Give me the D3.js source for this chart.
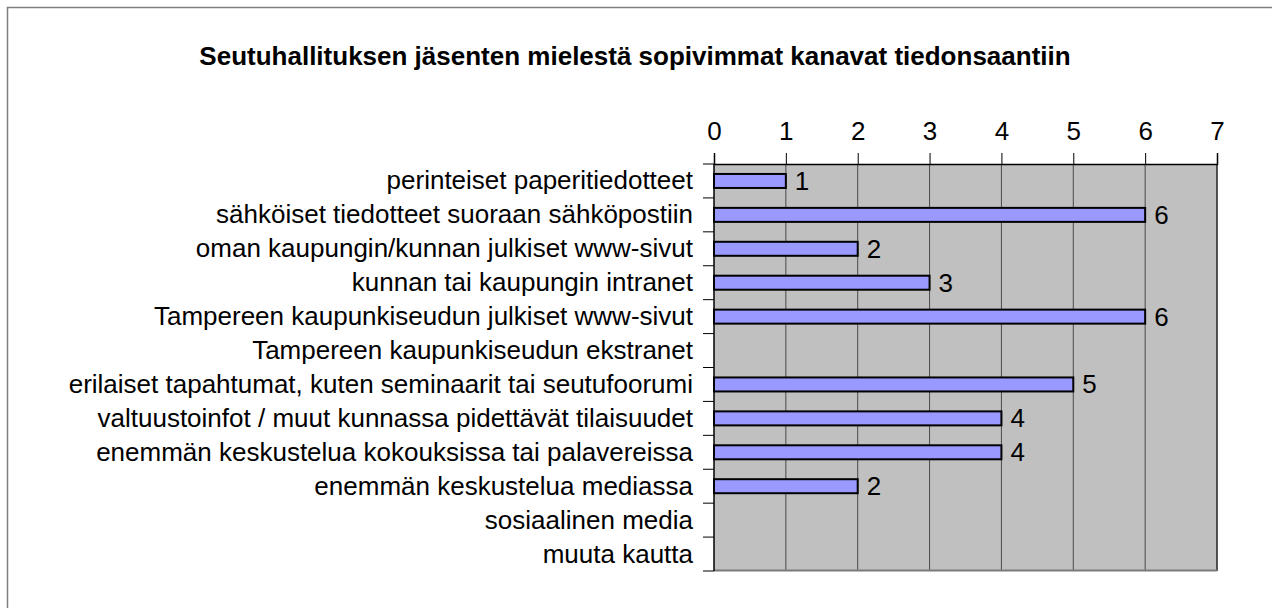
<!DOCTYPE html>
<html><head><meta charset="utf-8">
<script src="https://cdn.jsdelivr.net/npm/d3@7"></script>
<style>body{margin:0;background:#fff} svg{display:block}</style>
</head><body>
<svg id="c" width="1272" height="608"></svg>
<script>
const title = "Seutuhallituksen jäsenten mielestä sopivimmat kanavat tiedonsaantiin";
const categories = [
  "perinteiset paperitiedotteet",
  "sähköiset tiedotteet suoraan sähköpostiin",
  "oman kaupungin/kunnan julkiset www-sivut",
  "kunnan tai kaupungin intranet",
  "Tampereen kaupunkiseudun julkiset www-sivut",
  "Tampereen kaupunkiseudun ekstranet",
  "erilaiset tapahtumat, kuten seminaarit tai seutufoorumi",
  "valtuustoinfot / muut kunnassa pidettävät tilaisuudet",
  "enemmän keskustelua kokouksissa tai palavereissa",
  "enemmän keskustelua mediassa",
  "sosiaalinen media",
  "muuta kautta"
];
const values = [1, 6, 2, 3, 6, null, 5, 4, 4, 2, null, null];
const tickValues = [0, 1, 2, 3, 4, 5, 6, 7];

const svg = d3.select("#c");
const font = "'Liberation Sans', Arial, sans-serif";
const L = 714, R = 1217, T = 164, B = 571;

// outer border
svg.append("rect").attr("x", 7.5).attr("y", 7.5).attr("width", 1300).attr("height", 700)
  .attr("fill", "none").attr("stroke", "#7f7f7f").attr("stroke-width", 1.5);

svg.append("text").attr("x", 635).attr("y", 65).attr("text-anchor", "middle")
  .attr("font-family", font).attr("font-weight", "bold").attr("font-size", 26)
  .attr("fill", "#000").text(title);

const x = d3.scaleLinear().domain([0, 7]).range([L, R]);
const y = d3.scaleBand().domain(categories).range([T, B]).padding(0);

// plot area
svg.append("rect").attr("x", L).attr("y", T).attr("width", R - L).attr("height", B - T)
  .attr("fill", "#c0c0c0");

// grid lines
svg.append("g").selectAll("line").data(tickValues.slice(1)).join("line")
  .attr("x1", d => x(d)).attr("x2", d => x(d)).attr("y1", T).attr("y2", B)
  .attr("stroke", d => d === 7 ? "#222" : "#4a4a4a").attr("stroke-width", d => d === 7 ? 1.5 : 1);

// bottom edge
svg.append("line").attr("x1", L).attr("x2", R).attr("y1", B - 0.5).attr("y2", B - 0.5)
  .attr("stroke", "#7a7a7a").attr("stroke-width", 2);

// top axis
const xAxis = d3.axisTop(x).tickValues(tickValues).tickSize(11).tickPadding(13).tickFormat(d3.format("d"));
const gx = svg.append("g").attr("transform", `translate(0,${T})`).call(xAxis);
gx.select(".domain").attr("stroke", "#000").attr("stroke-width", 1.5);
gx.selectAll(".tick line").attr("stroke", "#000");
gx.selectAll("text").attr("font-family", font).attr("font-size", 26).attr("fill", "#000");

// left axis ticks at band boundaries
const bounds = categories.map(c => y(c)).concat([B]);
svg.append("g").selectAll("line").data(bounds).join("line")
  .attr("x1", L - 11).attr("x2", L).attr("y1", d => d).attr("y2", d => d)
  .attr("stroke", "#000").attr("stroke-width", 1);
svg.append("line").attr("x1", L).attr("x2", L).attr("y1", T).attr("y2", B)
  .attr("stroke", "#000").attr("stroke-width", 1.5);

// category labels
svg.append("g").selectAll("text").data(categories).join("text")
  .attr("x", 693).attr("y", d => y(d) + y.bandwidth() / 2 + 8.5)
  .attr("text-anchor", "end").attr("font-family", font).attr("font-size", 26)
  .attr("fill", "#000").text(d => d);

// bars
const data = categories.map((c, i) => ({c, v: values[i]})).filter(d => d.v != null && d.v > 0);
const bh = 14;
svg.append("g").selectAll("rect").data(data).join("rect")
  .attr("x", x(0)).attr("y", d => y(d.c) + y.bandwidth() / 2 - bh / 2)
  .attr("width", d => x(d.v) - x(0)).attr("height", bh)
  .attr("fill", "#9999ff").attr("stroke", "#000").attr("stroke-width", 2);

// value labels
svg.append("g").selectAll("text").data(data).join("text")
  .attr("x", d => x(d.v) + 9).attr("y", d => y(d.c) + y.bandwidth() / 2 + 9)
  .attr("font-family", font).attr("font-size", 26).attr("fill", "#000").text(d => d.v);
</script>
</body></html>
